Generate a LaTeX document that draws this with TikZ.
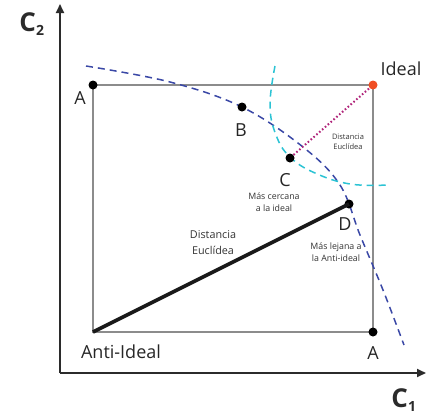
\documentclass[tikz,border=0pt]{standalone}
\usepackage{fontspec}
\setmainfont{Open Sans}
\usetikzlibrary{arrows.meta}
\definecolor{sqgray}{HTML}{8C8C8C}
\definecolor{axisc}{HTML}{2B2B2B}
\definecolor{dblue}{HTML}{3A48A6}
\definecolor{dcyan}{HTML}{2CC3D4}
\definecolor{idealc}{HTML}{F04E23}
\definecolor{magc}{HTML}{B0247A}
\tikzset{
  axis/.style={draw=axisc, line width=2pt, -{Triangle[length=9pt,width=8pt]}},
  sq/.style={draw=sqgray, line width=2.8pt},
  pt/.style={circle, fill=black, inner sep=0pt, minimum size=9pt},
  lbl/.style={font=\fontsize{18}{20}\selectfont, text=black!85, inner sep=0pt},
  small/.style={font=\fontsize{8.8}{11.5}\selectfont, text=black!80, align=center, inner sep=0pt},
  axlbl/.style={font=\bfseries\fontsize{26}{28}\selectfont, text=axisc, inner sep=0pt}
}
\begin{document}
\begin{tikzpicture}[x=1pt,y=-1pt]
\useasboundingbox (0,0) rectangle (426,415);
% axes
\coordinate (O) at (60,373);
\coordinate (Ytop) at (60,4);
\coordinate (Xend) at (426,373);
\draw[axis] (O) -- (Ytop);
\draw[axis] (O) -- (Xend);
\node[axlbl] (c2) at (32,24) {C\textsubscript{\fontsize{14}{14}\selectfont 2}};
\node[axlbl] (c1) at (404,400) {C\textsubscript{\fontsize{14}{14}\selectfont 1}};
% square
\coordinate (AI) at (93,332);
\coordinate (TL) at (93,85);
\coordinate (TR) at (373,85);
\coordinate (BR) at (373,332);
\draw[sq] (AI) -- (TL) -- (TR) -- (BR) -- cycle;
% blue dashed curve
\draw[dblue, line width=1.5pt, dash pattern=on 7pt off 5pt]
  plot[smooth, tension=0.6] coordinates {(86,66) (170,82) (242,107) (303,147) (340,185) (360,235) (383,290) (404,345)};
% cyan dashed curve
\draw[dcyan, line width=1.5pt, dash pattern=on 7pt off 5pt]
  plot[smooth, tension=0.7] coordinates {(275,66) (270,105) (276,135) (290,157) (315,173) (350,184) (388,185)};
% points
\node[pt] (A1) at (TL) {};
\node[pt] (A2) at (BR) {};
\node[pt] (B) at (242,107) {};
\node[pt] (C) at (290,158) {};
\node[pt] (D) at (349,204) {};
\node[circle, fill=idealc, inner sep=0pt, minimum size=9pt] (I) at (TR) {};
% connectors
\draw[magc, line width=2pt, dash pattern=on 1.6pt off 2.2pt] (C) -- (I);
\draw[black!90, line width=3.6pt] (AI) -- (D.center);
% labels
\node[lbl] (la1) at (80,98) {A};
\node[lbl] (la2) at (373,353) {A};
\node[lbl] (lb) at (241,130) {B};
\node[lbl] (lc) at (285,180) {C};
\node[lbl] (ld) at (345,224) {D};
\node[lbl] (lideal) at (401,69) {Ideal};
\node[lbl] (lanti) at (121,352) {Anti-Ideal};
\node[small, font=\fontsize{7.5}{9.8}\selectfont] (de1) at (348,142) {Distancia\\Euclídea};
\node[small] (mc) at (274,202) {Más cercana\\a la ideal};
\node[small] (ml) at (336,252) {Más lejana a\\la Anti-ideal};
\node[small, font=\fontsize{10.8}{16}\selectfont] (de2) at (213,243) {Distancia\\Euclídea};
\end{tikzpicture}
\end{document}
